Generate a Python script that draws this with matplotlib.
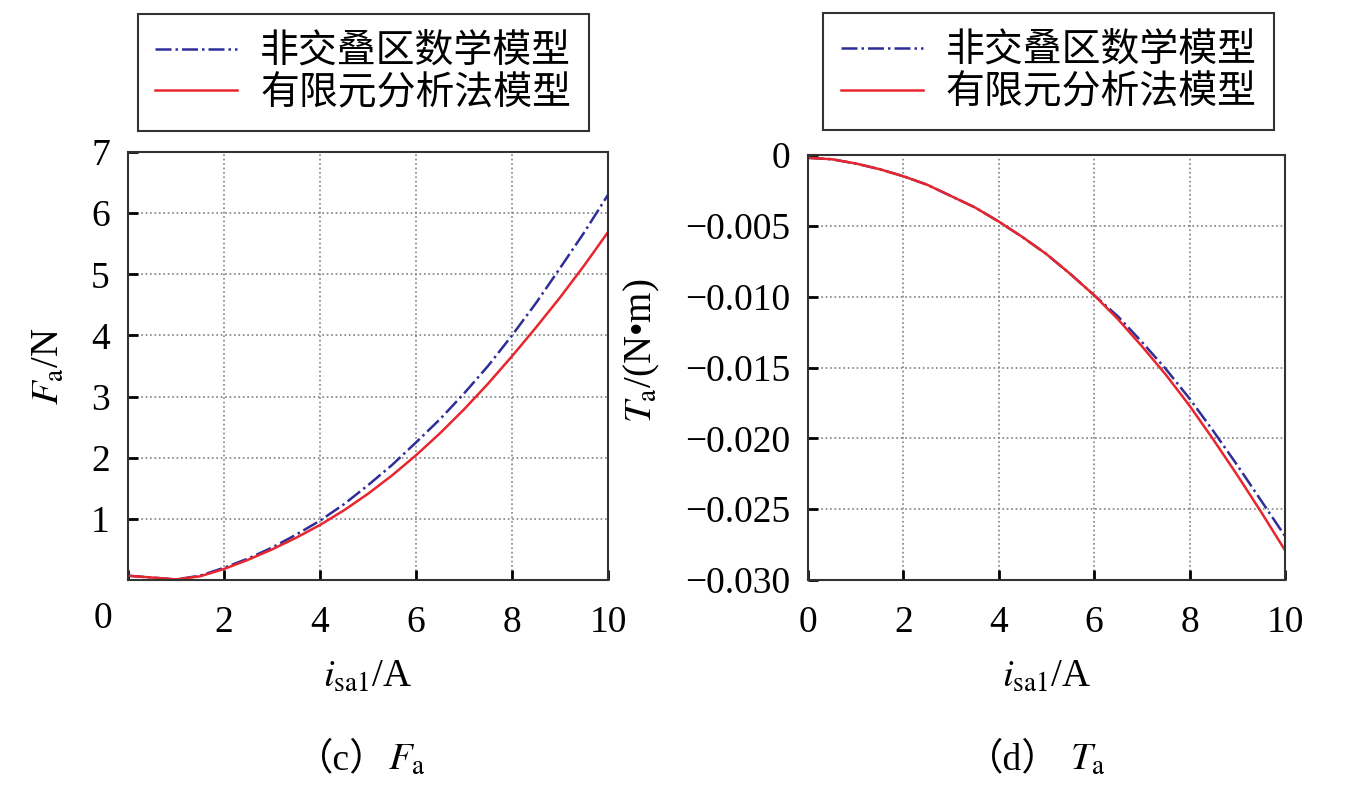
import numpy as np
import matplotlib
matplotlib.use('Agg')
import matplotlib.pyplot as plt

# data (every 0.5 A)
i_sa1 = [0, 0.5, 1, 1.5, 2, 2.5, 3, 3.5, 4, 4.5, 5, 5.5, 6, 6.5, 7, 7.5, 8, 8.5, 9, 9.5, 10]
Fa_math = [0.07, 0.04, 0.01, 0.07, 0.2, 0.35, 0.53, 0.74, 0.97, 1.24, 1.55, 1.88, 2.25,
           2.63, 3.05, 3.5, 4.0, 4.53, 5.1, 5.68, 6.3]
Fa_fem = [0.07, 0.04, 0.01, 0.06, 0.18, 0.33, 0.5, 0.69, 0.9, 1.14, 1.41, 1.71, 2.04,
          2.4, 2.79, 3.21, 3.66, 4.13, 4.62, 5.14, 5.69]
Ta_math = [-0.0002, -0.0003, -0.0006, -0.0010, -0.0015, -0.0021, -0.0029, -0.0037, -0.0047,
           -0.0058, -0.0070, -0.0084, -0.0099, -0.0114, -0.0132, -0.0151, -0.0172, -0.0195,
           -0.0219, -0.0244, -0.0269]
Ta_fem = [-0.0002, -0.0003, -0.0006, -0.0010, -0.0015, -0.0021, -0.0029, -0.0037, -0.0047,
          -0.0058, -0.0070, -0.0084, -0.0099, -0.0116, -0.0135, -0.0155, -0.0177, -0.0201,
          -0.0226, -0.0252, -0.0279]

labels = ['非交叠区数学模型', '有限元分析法模型']
fa_ticks = [1, 2, 3, 4, 5, 6, 7]
ta_ticks = [0, -0.005, -0.010, -0.015, -0.020, -0.025, -0.030]
ta_ticklabels = ['0', '\u22120.005', '\u22120.010', '\u22120.015', '\u22120.020', '\u22120.025', '\u22120.030']
x_ticks = [0, 2, 4, 6, 8, 10]

plt.rcParams['font.family'] = ['Liberation Serif', 'Noto Sans CJK SC']
plt.rcParams['mathtext.fontset'] = 'stix'

blue = '#2e2e9a'
red = '#e8262e'

fig = plt.figure(figsize=(13.49, 7.99), dpi=100)
ax1 = fig.add_axes([128/1349, 1-580/799, 480/1349, 428/799])
ax2 = fig.add_axes([808/1349, 1-580/799, 477/1349, 425/799])

ax1.plot(i_sa1, Fa_math, color=blue, ls='-.', lw=1.8, label=labels[0])
ax1.plot(i_sa1, Fa_fem, color=red, ls='-', lw=1.8, label=labels[1])
ax2.plot(i_sa1, Ta_math, color=blue, ls='-.', lw=1.8, label=labels[0])
ax2.plot(i_sa1, Ta_fem, color=red, ls='-', lw=1.8, label=labels[1])

ax1.set_xlim(0, 10)
ax1.set_ylim(0, 7)
ax1.set_xticks(x_ticks)
ax1.set_xticklabels([''] + [str(v) for v in x_ticks[1:]])
ax1.set_yticks(fa_ticks)
ax1.set_yticklabels([str(v) for v in fa_ticks])
ax1.text(-0.052, -0.09, '0', transform=ax1.transAxes, ha='center', va='center', fontsize=27)

ax2.set_xlim(0, 10)
ax2.set_ylim(-0.030, 0)
ax2.set_xticks(x_ticks)
ax2.set_yticks(ta_ticks)
ax2.set_yticklabels(ta_ticklabels)

for ax in (ax1, ax2):
    ax.grid(True, ls=':', color='#808080', lw=1.2)
    ax.tick_params(direction='in', length=7, width=2, labelsize=27, top=False, right=False)
    ax.tick_params(axis='x', pad=18)
    ax.tick_params(axis='y', pad=13)
    for s in ax.spines.values():
        s.set_linewidth(1.5)
        s.set_color('#333333')
    ax.set_xlabel(r'$i_{\mathrm{sa1}}$/A', fontsize=28, labelpad=14)

ax1.set_ylabel(r'$F_{\mathrm{a}}$/N', fontsize=28)
ax1.yaxis.set_label_coords(-0.125, 0.5)
ax2.set_ylabel(r'$T_{\mathrm{a}}$/(N•m)', fontsize=28)
ax2.yaxis.set_label_coords(-0.306, 0.54)

leg_kw = dict(loc='lower center', frameon=True, fancybox=False,
              edgecolor='#333333', framealpha=1, borderaxespad=0,
              handlelength=2.1, labelspacing=0.05, borderpad=0.45, handletextpad=0.6,
              prop={'family': ['Noto Sans CJK SC'], 'size': 28})
lg1 = ax1.legend(bbox_to_anchor=(0.49, 1.05), **leg_kw)
lg2 = ax2.legend(bbox_to_anchor=(0.505, 1.058), **leg_kw)
for lg in (lg1, lg2):
    lg.get_frame().set_linewidth(1.5)

cap = 1 - 760/799
cap_fam = ['Liberation Serif', 'Noto Sans CJK SC']
fig.text(388/1349, cap, '（c）', ha='right', va='center', fontsize=27, family=cap_fam)
fig.text(388/1349, cap, r'$F_{\mathrm{a}}$', ha='left', va='center', fontsize=28)
fig.text(1060/1349, cap, '（d）', ha='right', va='center', fontsize=27, family=cap_fam)
fig.text(1070/1349, cap, r'$T_{\mathrm{a}}$', ha='left', va='center', fontsize=28)

fig.savefig('out.png', dpi=100)
